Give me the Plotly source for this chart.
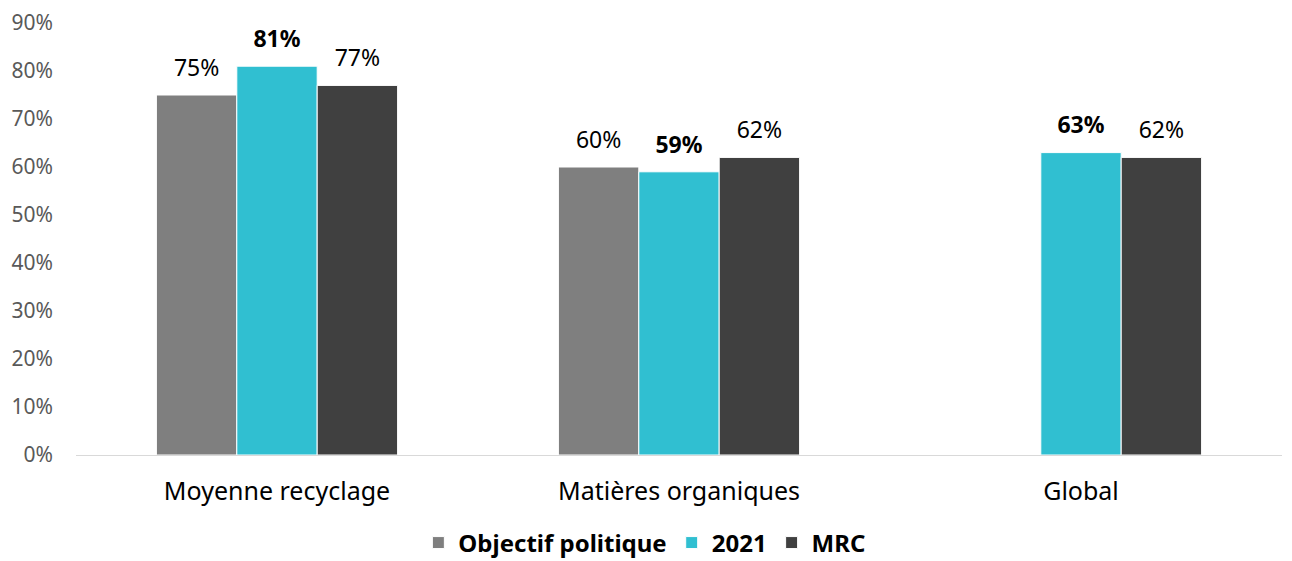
import plotly.graph_objects as go

categories = ["Moyenne recyclage", "Matières organiques", "Global"]
objectif = [0.75, 0.60, None]
an2021 = [0.81, 0.59, 0.63]
mrc = [0.77, 0.62, 0.62]
y_ticks = [0, 0.1, 0.2, 0.3, 0.4, 0.5, 0.6, 0.7, 0.8, 0.9]

FONT = "Noto Sans"

def labels(vals, bold=False):
    out = []
    for v in vals:
        if v is None:
            out.append("")
        else:
            s = f"{round(v*100)}%"
            out.append(f"<b>{s}</b>" if bold else s)
    return out

fig = go.Figure()
series = [
    ("Objectif politique", objectif, "#7f7f7f", False),
    ("2021", an2021, "#30bfd1", True),
    ("MRC", mrc, "#404040", False),
]
for i, (name, vals, color, bold) in enumerate(series):
    fig.add_trace(go.Bar(
        name=f"<b>{name}</b>",
        x=categories, y=vals, offsetgroup=str(i), alignmentgroup="a",
        marker=dict(color=color, line=dict(color="white", width=1)),
        hoverinfo="skip",
    ))
for i, (name, vals, color, bold) in enumerate(series):
    fig.add_trace(go.Scatter(
        x=categories, y=vals, offsetgroup=str(i), alignmentgroup="a",
        mode="markers+text", text=labels(vals, bold), textposition="top center",
        marker=dict(size=20, color="rgba(0,0,0,0)"),
        textfont=dict(family=FONT, size=23, color="#000000"),
        cliponaxis=False, showlegend=False, hoverinfo="skip",
    ))

fig.update_layout(
    width=1284, height=553,
    margin=dict(l=68, r=10, t=15, b=106, autoexpand=False),
    barmode="group", bargap=0.4, bargroupgap=0,
    scattermode="group", scattergap=0.4,
    plot_bgcolor="white", paper_bgcolor="white",
    font=dict(family=FONT, size=20, color="#000000"),
    showlegend=True,
    legend=dict(orientation="h", x=0.496, xanchor="center", xref="container",
                y=0.0326, yanchor="middle", yref="container",
                font=dict(family=FONT, size=24, color="#000000"),
                itemwidth=30, traceorder="normal"),
    xaxis=dict(showgrid=False, showline=True, linecolor="#d9d9d9", linewidth=1,
               ticks="", automargin=False, ticklabelstandoff=14,
               tickfont=dict(family=FONT, size=25, color="#000000")),
    yaxis=dict(range=[0, 0.9], tickvals=y_ticks, tickformat=".0%", showgrid=False,
               zeroline=False, showline=False, ticks="", automargin=False,
               ticklabelstandoff=22, ticklabeloverflow="allow",
               tickfont=dict(family=FONT, size=21, color="#595959")),
)
fig.write_html("out.html")
